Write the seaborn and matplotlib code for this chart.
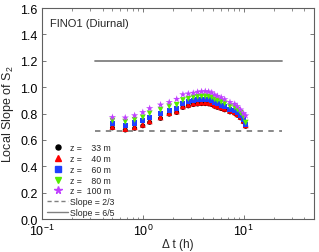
import matplotlib
matplotlib.use("Agg")
import matplotlib.pyplot as plt
import numpy as np
import pandas as pd
import seaborn as sns
from matplotlib.lines import Line2D

# time lags (h)
dt = [0.5, 0.67, 0.83, 1.0, 1.17, 1.5, 1.83, 2.17, 2.5, 2.83, 3.17, 3.5, 3.83,
      4.17, 4.5, 4.83, 5.17, 5.5, 6.0, 6.5, 7.33, 8.17, 8.67, 9.33, 10.0, 10.5]

slope_100 = [0.771, 0.768, 0.785, 0.809, 0.839, 0.866, 0.885, 0.909, 0.944, 0.950,
             0.955, 0.963, 0.967, 0.968, 0.965, 0.959, 0.942, 0.932, 0.922, 0.907,
             0.885, 0.872, 0.854, 0.829, 0.801, 0.784]
slope_80 = [0.746, 0.738, 0.752, 0.771, 0.801, 0.829, 0.854, 0.866, 0.902, 0.912,
            0.922, 0.927, 0.930, 0.930, 0.928, 0.922, 0.907, 0.898, 0.888, 0.876,
            0.855, 0.846, 0.829, 0.806, 0.775, 0.731]
slope_60 = [0.726, 0.712, 0.728, 0.746, 0.771, 0.801, 0.826, 0.839, 0.879, 0.890,
            0.898, 0.903, 0.906, 0.906, 0.903, 0.898, 0.882, 0.874, 0.864, 0.852,
            0.834, 0.824, 0.807, 0.785, 0.755, 0.720]
slope_40 = [0.699, 0.683, 0.696, 0.715, 0.741, 0.771, 0.803, 0.816, 0.854, 0.866,
            0.876, 0.880, 0.883, 0.883, 0.881, 0.876, 0.863, 0.855, 0.846, 0.836,
            0.820, 0.810, 0.795, 0.775, 0.745, 0.711]
slope_33 = [0.691, 0.675, 0.688, 0.707, 0.733, 0.763, 0.795, 0.808, 0.846, 0.858,
            0.868, 0.872, 0.875, 0.875, 0.873, 0.868, 0.855, 0.847, 0.838, 0.828,
            0.812, 0.802, 0.787, 0.767, 0.737, 0.703]

heights = [33, 40, 60, 80, 100]
labels = ["z =    33 m", "z =    40 m", "z =    60 m", "z =    80 m", "z =  100 m"]
ref_span = [1 / 3, 24]
ref_slopes = [2 / 3, 6 / 5]

series = [slope_33, slope_40, slope_60, slope_80, slope_100]
markers = ["o", "^", "s", "v", "*"]
colors = ["#000000", "#ff0000", "#1f3fff", "#55ee00", "#c040ff"]
sizes = [13, 18, 13, 18, 30]

sns.set_style("ticks")
plt.rcParams["font.family"] = ["Liberation Sans", "DejaVu Sans"]
plt.rcParams["mathtext.fontset"] = "custom"
plt.rcParams["mathtext.rm"] = "Liberation Sans"
plt.rcParams["mathtext.it"] = "Liberation Sans:italic"

fig = plt.figure(figsize=(3.19, 2.53), dpi=100)
ax = fig.add_axes([0.1317, 0.1304, 0.8527, 0.834])

for h, vals, m, c, s in zip(heights, series, markers, colors, sizes):
    df = pd.DataFrame({"dt": dt, "slope": vals})
    sns.scatterplot(data=df, x="dt", y="slope", marker=m, color=c, s=s,
                    edgecolor="none", linewidth=0, ax=ax, zorder=3)

ax.plot(ref_span, [ref_slopes[0]] * 2, color="#808080", lw=1.3,
        ls=(0, (3, 3)), zorder=2)
ax.plot(ref_span, [ref_slopes[1]] * 2, color="#808080", lw=1.3, zorder=2)

ax.set_xscale("log")
ax.set_xlim(0.1, 50)
ax.set_ylim(0, 1.6)
ax.set_yticks(np.arange(0, 1.61, 0.2))
ax.set_yticklabels([f"{v:.1f}" for v in np.arange(0, 1.61, 0.2)])
ax.set_xlabel("Δ t (h)", fontsize=8.5, labelpad=0)
ax.set_ylabel("Local Slope of S$_2$", fontsize=9, labelpad=3)
ax.tick_params(which="both", direction="in", top=True, right=True,
               labelsize=9, colors="#606060", labelcolor="black", pad=3)
ax.tick_params(which="major", length=3, width=0.6)
ax.tick_params(which="minor", length=1.8, width=0.5)
for sp in ax.spines.values():
    sp.set_color("#606060")
    sp.set_linewidth(0.8)

ax.text(0.03, 0.955, "FINO1 (Diurnal)", transform=ax.transAxes,
        fontsize=8, va="top", ha="left")

handles = [Line2D([], [], ls="none", marker=m, color=c, markersize=np.sqrt(s))
           for m, c, s in zip(markers, colors, sizes)]
handles += [Line2D([], [], color="#808080", lw=1.0, ls=(0, (3, 2))),
            Line2D([], [], color="#808080", lw=1.0)]
leg_labels = labels + ["Slope = 2/3", "Slope = 6/5"]
ax.legend(handles, leg_labels, loc="lower left", bbox_to_anchor=(0.02, 0.01),
          frameon=False, fontsize=6.3, handlelength=2.4, handletextpad=0.2,
          labelspacing=0.2, borderpad=0, borderaxespad=0)

fig.savefig("out.png", dpi=100)
